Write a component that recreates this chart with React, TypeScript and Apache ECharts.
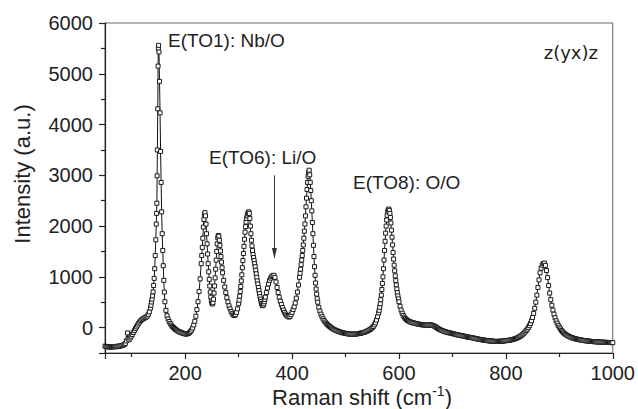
import React, { useEffect, useRef } from 'react';
import * as echarts from 'echarts';

// Raman shift (cm-1), intensity (a.u.)
const spectrum: [number, number][] = [
  [50, -365], [52, -372], [54, -380], [56, -375], [58, -383], [60, -378], [62, -385], [64, -376], [66, -380], [68, -372],
  [70, -378], [72, -368], [74, -374], [76, -362], [78, -366], [80, -358], [82, -352], [84, -345], [86, -335], [88, -312],
  [90, -262], [92, -105], [93, -215], [95, -240], [97, -205], [99, -170], [101, -135], [103, -95], [105, -60], [107, -20],
  [109, 15], [111, 50], [113, 85], [115, 112], [117, 138], [119, 158], [121, 172], [123, 186], [125, 196], [127, 208],
  [129, 228], [131, 262], [133, 310], [135, 385], [136, 440], [137, 505], [138, 560], [139, 625], [140, 705],
  [141, 830], [142, 970], [143, 1160], [144, 1420], [145, 1730], [146, 2040], [146.5, 2250], [147, 2450], [147.5, 2990],
  [148, 3500], [148.7, 4310], [149.3, 5150], [149.8, 5500], [150.3, 5560], [151, 5430], [152, 4850], [153, 4230],
  [154, 3470], [155, 2860], [156, 2280], [157, 1850], [158, 1520], [159, 1220], [160, 930], [161, 700], [162, 510],
  [164, 340], [166, 235], [168, 170], [170, 120], [172, 82], [174, 50], [176, 22], [178, 2], [180, -18], [182, -36],
  [184, -52], [186, -66], [188, -78], [190, -88], [192, -98], [194, -103], [196, -112], [198, -118], [200, -124],
  [202, -128], [204, -122], [206, -116], [208, -100], [210, -78], [212, -48], [214, -8], [216, 52], [218, 125],
  [220, 225], [222, 355], [224, 510], [226, 710], [228, 960], [230, 1260], [231, 1420], [232, 1580], [233, 1760],
  [234, 1980], [235, 2130], [236, 2230], [237, 2265], [238, 2200], [239, 2040], [240, 1850], [241, 1650], [242, 1450],
  [243, 1260], [244, 1100], [245, 950], [246, 820], [247, 700], [248, 600], [249, 525], [250, 480], [251, 465],
  [252, 490], [253, 560], [254, 680], [255, 820], [256, 980], [257, 1150], [258, 1330], [259, 1500], [260, 1650],
  [261, 1770], [262, 1815], [263, 1800], [264, 1720], [265, 1620], [266, 1510], [267, 1400], [268, 1290], [269, 1180],
  [270, 1080], [272, 930], [274, 800], [276, 690], [278, 590], [280, 505], [282, 430], [284, 370], [286, 318],
  [288, 275], [290, 248], [292, 238], [294, 255], [296, 300], [298, 370], [300, 470], [301, 540], [302, 620],
  [303, 710], [304, 810], [305, 920], [306, 1040], [307, 1180], [308, 1320], [309, 1460], [310, 1600], [311, 1740],
  [312, 1880], [313, 1990], [314, 2080], [315, 2150], [316, 2200], [317, 2240], [318, 2270], [319, 2280], [320, 2250],
  [321, 2150], [322, 2000], [323, 1850], [324, 1720], [325, 1610], [326, 1520], [327, 1440], [328, 1380], [329, 1320],
  [330, 1260], [331, 1200], [332, 1130], [333, 1060], [334, 990], [335, 920], [336, 860], [337, 790], [338, 730],
  [339, 670], [340, 610], [341, 560], [342, 515], [343, 475], [344, 445], [345, 432], [346, 440], [347, 470],
  [348, 510], [349, 555], [350, 600], [352, 690], [354, 780], [356, 860], [358, 930], [360, 975], [362, 1005],
  [364, 1025], [366, 1030], [368, 990], [370, 900], [372, 790], [374, 690], [376, 600], [378, 520], [380, 455],
  [382, 395], [384, 345], [386, 300], [388, 265], [390, 238], [392, 218], [394, 208], [396, 220], [398, 255],
  [400, 300], [402, 355], [404, 410], [406, 485], [408, 580], [410, 700], [412, 840], [414, 990], [415, 1070],
  [416, 1150], [417, 1240], [418, 1330], [419, 1420], [420, 1520], [421, 1630], [422, 1760], [423, 1900], [424, 2040],
  [425, 2200], [426, 2380], [427, 2550], [428, 2720], [429, 2860], [430, 2980], [431, 3060], [432, 3100], [433, 3010],
  [434, 2860], [435, 2700], [436, 2500], [437, 2300], [438, 2070], [439, 1850], [440, 1620], [441, 1400], [442, 1200],
  [443, 1030], [444, 880], [445, 760], [446, 660], [447, 570], [448, 500], [450, 400], [452, 325], [454, 265],
  [456, 215], [458, 175], [460, 140], [462, 110], [464, 85], [466, 62], [468, 42], [470, 25], [472, 8], [474, -8],
  [476, -22], [478, -34], [480, -45], [482, -55], [484, -62], [486, -72], [488, -80], [490, -86], [492, -94],
  [494, -100], [496, -104], [498, -110], [500, -115], [502, -118], [504, -122], [506, -126], [508, -124], [510, -130],
  [512, -127], [514, -132], [516, -126], [518, -130], [520, -124], [522, -122], [524, -118], [526, -116], [528, -110],
  [530, -106], [532, -100], [534, -95], [536, -88], [538, -80], [540, -70], [542, -60], [544, -48], [546, -36],
  [548, -20], [550, -2], [552, 22], [554, 55], [556, 95], [558, 150], [560, 215], [562, 290], [563, 340], [564, 400],
  [565, 470], [566, 550], [567, 640], [568, 750], [569, 870], [570, 1000], [571, 1160], [572, 1330], [573, 1520],
  [574, 1700], [575, 1860], [576, 2000], [577, 2120], [578, 2210], [579, 2280], [580, 2320], [581, 2335], [582, 2310],
  [583, 2250], [584, 2170], [585, 2060], [586, 1920], [587, 1780], [588, 1630], [589, 1480], [590, 1350], [591, 1230],
  [592, 1120], [593, 1020], [594, 925], [595, 840], [596, 760], [597, 690], [598, 625], [599, 565], [600, 510],
  [602, 420], [604, 345], [606, 285], [608, 240], [610, 205], [612, 178], [614, 158], [616, 140], [618, 128],
  [620, 118], [622, 108], [624, 102], [626, 95], [628, 90], [630, 84], [632, 80], [634, 74], [636, 70], [638, 66],
  [640, 62], [642, 58], [644, 56], [646, 52], [648, 50], [650, 48], [652, 47], [654, 48], [656, 50], [658, 52],
  [660, 52], [662, 48], [664, 40], [666, 30], [668, 18], [670, 4], [672, -10], [674, -24], [676, -36], [678, -46],
  [680, -56], [682, -64], [684, -72], [686, -80], [688, -86], [690, -92], [692, -98], [694, -102], [696, -106],
  [698, -112], [700, -118], [702, -122], [704, -128], [706, -134], [708, -140], [710, -144], [712, -148], [714, -152],
  [716, -156], [718, -160], [720, -165], [722, -168], [724, -174], [726, -180], [728, -183], [730, -188], [732, -190],
  [734, -195], [736, -198], [738, -202], [740, -208], [742, -212], [744, -216], [746, -220], [748, -226], [750, -230],
  [752, -234], [754, -238], [756, -240], [758, -245], [760, -248], [762, -250], [764, -254], [766, -257], [768, -260],
  [770, -262], [772, -264], [774, -266], [776, -268], [778, -270], [780, -271], [782, -273], [784, -270], [786, -272],
  [788, -268], [790, -270], [792, -267], [794, -265], [796, -262], [798, -260], [800, -257], [802, -254], [804, -252],
  [806, -248], [808, -245], [810, -240], [812, -236], [814, -230], [816, -224], [818, -216], [820, -208], [822, -198],
  [824, -188], [826, -176], [828, -162], [830, -146], [832, -128], [834, -108], [836, -85], [838, -60], [840, -32],
  [842, 0], [844, 38], [846, 82], [848, 135], [850, 200], [852, 280], [854, 380], [856, 500], [858, 640], [860, 790],
  [862, 940], [864, 1080], [866, 1170], [868, 1230], [870, 1262], [872, 1270], [874, 1225], [876, 1125], [878, 985],
  [880, 830], [882, 680], [884, 550], [886, 440], [888, 345], [890, 265], [892, 195], [894, 135], [896, 88], [898, 45],
  [900, 8], [902, -25], [904, -55], [906, -80], [908, -102], [910, -120], [912, -136], [914, -150], [916, -162],
  [918, -174], [920, -184], [922, -192], [924, -200], [926, -207], [928, -213], [930, -220], [932, -225], [934, -230],
  [936, -235], [938, -239], [940, -243], [942, -247], [944, -250], [946, -254], [948, -257], [950, -260], [952, -262],
  [954, -265], [956, -267], [958, -270], [960, -272], [962, -274], [964, -276], [966, -277], [968, -279], [970, -280],
  [972, -282], [974, -283], [976, -284], [978, -285], [980, -286], [982, -288], [984, -289], [986, -290], [988, -291],
  [990, -292], [992, -293], [994, -293], [996, -294], [998, -295], [1000, -296],
];

// arrow pointing to the E(TO6) band: [shift, intensity] start and end
const arrowStart: [number, number] = [367, 3000];
const arrowEnd: [number, number] = [367, 1460];

const xRange = [50, 1000];
const yRange = [-500, 6000];

const peakLabels = ['E(TO1): Nb/O', 'E(TO6): Li/O', 'E(TO8): O/O'];
const geometryLabel = 'z(yx)z';
const xTitle = ['Raman shift (cm', '-1', ')'];
const yTitle = 'Intensity (a.u.)';

const FONT = '"Liberation Sans", Arial, Helvetica, sans-serif';
const INK = '#222';

export default function App() {
  const ref = useRef<HTMLDivElement>(null);

  useEffect(() => {
    document.body.style.margin = '0';
    if (!ref.current) return;
    const chart = echarts.init(ref.current, undefined, { renderer: 'svg' });

    const axisCommon = {
      type: 'value' as const,
      axisLine: { show: true, onZero: false, lineStyle: { color: INK, width: 1.2 } },
      axisTick: { show: true, inside: false, length: 6, lineStyle: { color: INK, width: 1.2 } },
      minorTick: { show: true, splitNumber: 2, length: 4, lineStyle: { color: INK, width: 1.2 } },
      splitLine: { show: false },
      minorSplitLine: { show: false },
    };
    const plain = (v: number) => String(v);

    chart.setOption({
      animation: false,
      backgroundColor: '#fff',
      grid: {
        left: 105, right: 24, top: 23, bottom: 56,
        show: true, borderColor: '#666', borderWidth: 1, backgroundColor: 'transparent',
      },
      xAxis: {
        ...axisCommon,
        min: xRange[0], max: xRange[1], splitNumber: 5,
        axisLabel: { showMinLabel: false, formatter: plain, fontSize: 20, color: INK, fontFamily: FONT, margin: 10 },
      },
      yAxis: {
        ...axisCommon,
        min: yRange[0], max: yRange[1], splitNumber: 6,
        axisLabel: { showMinLabel: false, formatter: plain, fontSize: 20, color: INK, fontFamily: FONT, margin: 12 },
      },
      series: [
        {
          type: 'line',
          data: spectrum,
          symbol: 'rect',
          symbolSize: 4,
          showAllSymbol: true,
          lineStyle: { color: '#111', width: 1 },
          itemStyle: { color: '#fff', borderColor: '#1a1a1a', borderWidth: 1 },
          emphasis: { disabled: true },
          markLine: {
            silent: true,
            symbol: ['none', 'triangle'],
            symbolSize: [5, 11],
            label: { show: false },
            lineStyle: { color: '#333', width: 1, type: 'solid' },
            itemStyle: { color: '#333' },
            data: [[{ coord: arrowStart }, { coord: arrowEnd }]],
          },
        },
      ],
      graphic: [
        {
          type: 'text', x: 168, y: 40,
          style: { text: peakLabels[0], fontSize: 19, fontFamily: FONT, fill: INK, align: 'left', verticalAlign: 'middle' },
        },
        {
          type: 'text', x: 209, y: 157,
          style: { text: peakLabels[1], fontSize: 19, fontFamily: FONT, fill: INK, align: 'left', verticalAlign: 'middle' },
        },
        {
          type: 'text', x: 353, y: 182,
          style: { text: peakLabels[2], fontSize: 19, fontFamily: FONT, fill: INK, align: 'left', verticalAlign: 'middle' },
        },
        {
          type: 'text', x: 598, y: 52,
          style: { text: geometryLabel, fontSize: 18, fontFamily: '"DejaVu Sans", sans-serif', fill: INK, align: 'right', verticalAlign: 'middle' },
        },
        {
          type: 'text', x: 22, y: 174, rotation: Math.PI / 2,
          style: { text: yTitle, fontSize: 22, fontFamily: FONT, fill: INK, align: 'center', verticalAlign: 'middle' },
        },
        {
          type: 'text', x: 362, y: 397,
          style: {
            text: `{a|${xTitle[0]}}{b|${xTitle[1]}}{a|${xTitle[2]}}`,
            align: 'center', verticalAlign: 'middle',
            rich: {
              a: { fontSize: 22, fontFamily: FONT, fill: INK, color: INK },
              b: { fontSize: 14, fontFamily: FONT, fill: INK, color: INK, padding: [0, 0, 12, 0] },
            },
          },
        },
      ],
    });

    return () => chart.dispose();
  }, []);

  return <div ref={ref} style={{ width: 638, height: 409, position: 'absolute', left: 0, top: 0 }} />;
}
